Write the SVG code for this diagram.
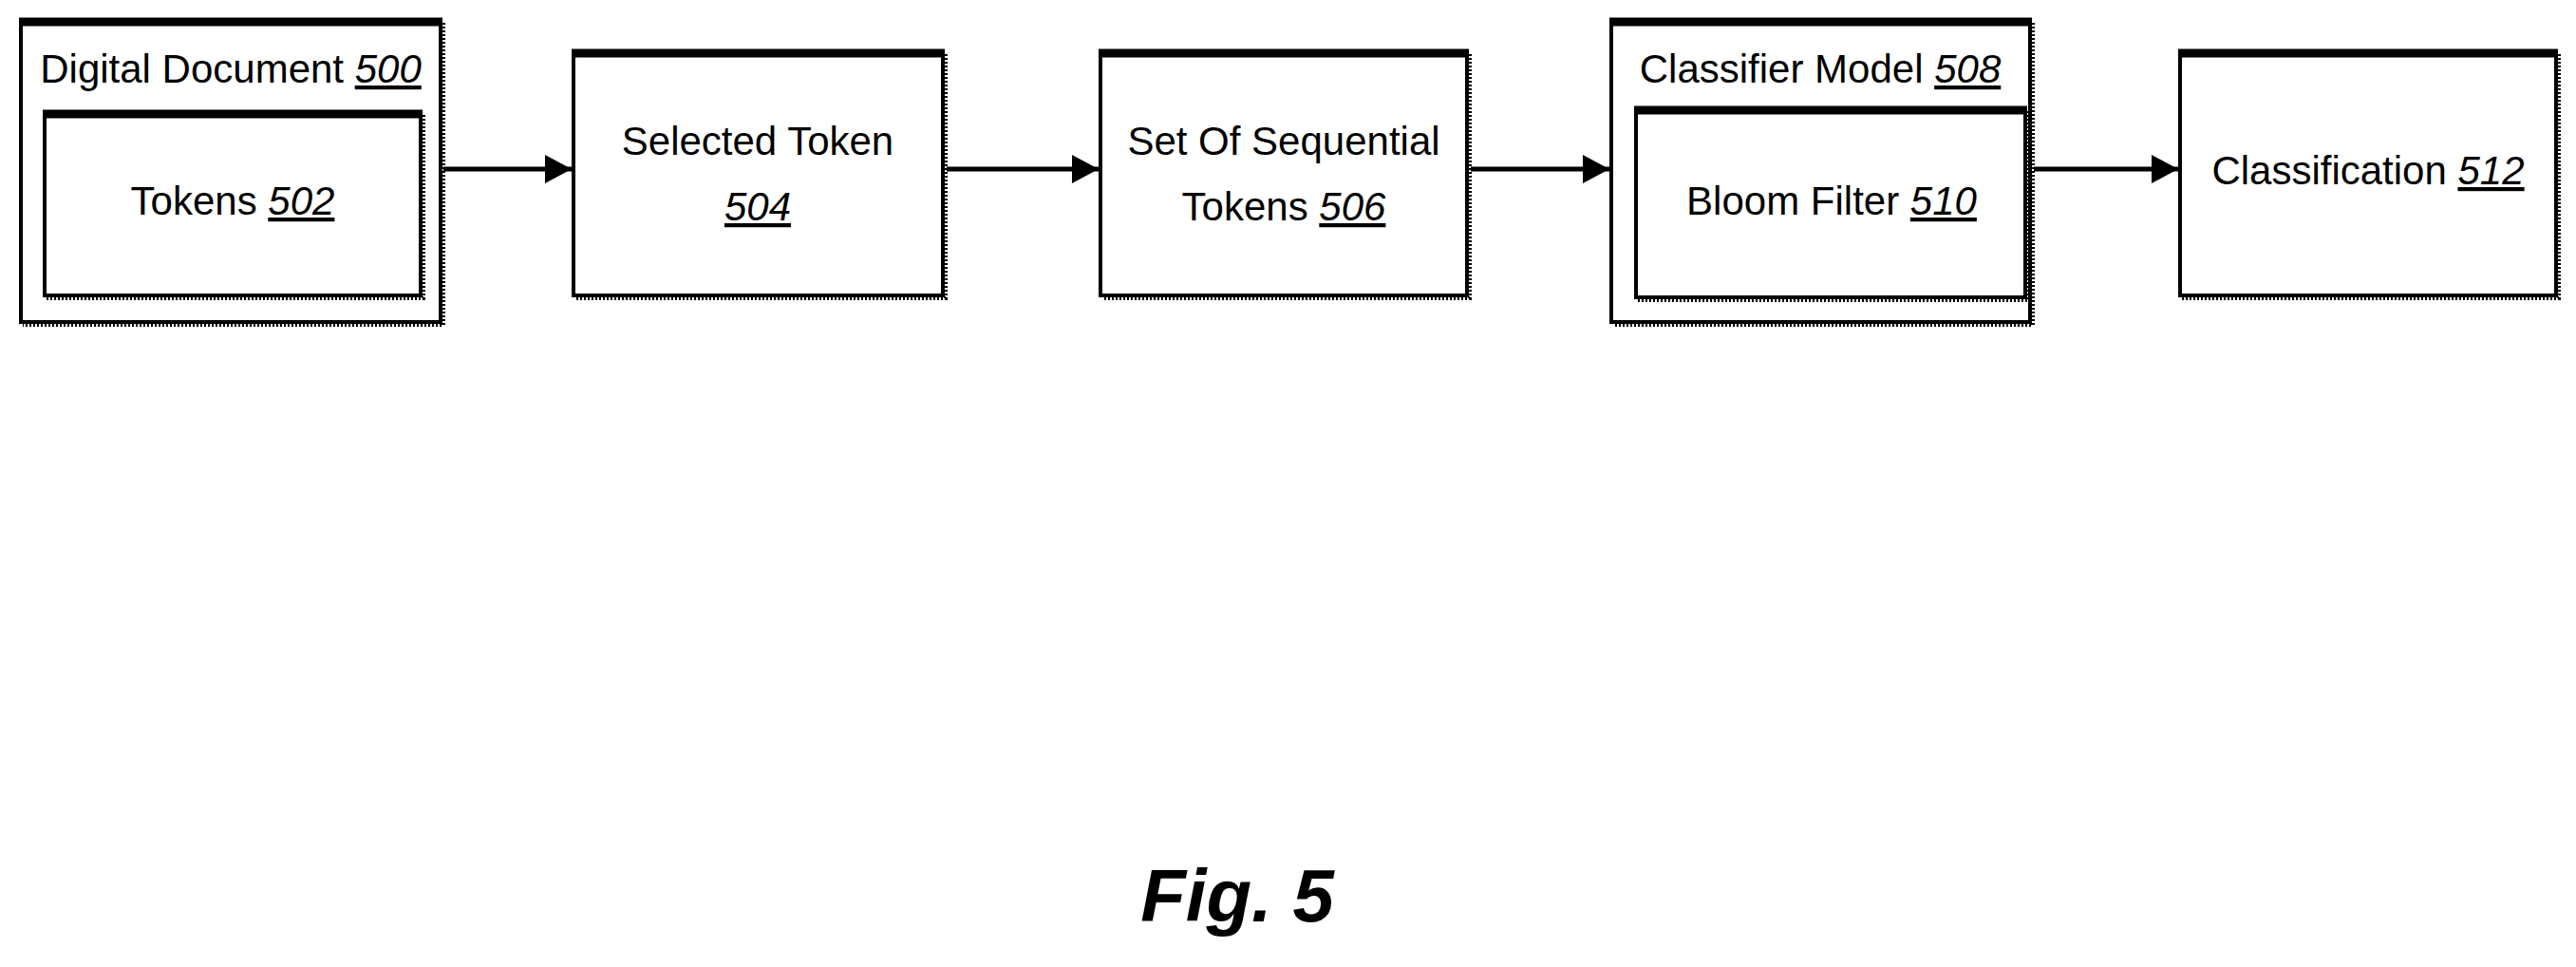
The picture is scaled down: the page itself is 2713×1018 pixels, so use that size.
<svg xmlns="http://www.w3.org/2000/svg" width="2713" height="1018" viewBox="0 0 2713 1018">
<defs>
<style>
.box{fill:#fff;stroke:#000;stroke-width:4}
.top{stroke:#000;stroke-width:9}
.sh{stroke:#000;stroke-width:4;stroke-dasharray:2 2;fill:none}
.t{font-family:"Liberation Sans Narrow","Liberation Sans",sans-serif;font-stretch:condensed;font-size:42px;text-anchor:middle;fill:#000}
.c{stroke:#000;stroke-width:5;fill:none}
</style>
<marker id="ah" markerWidth="28" markerHeight="30" refX="28" refY="15" orient="auto" markerUnits="userSpaceOnUse" viewBox="0 0 28 30"><path d="M0,0L28,15L0,30z"/></marker>
</defs>
<rect width="2713" height="1018" fill="#fff"/>
<g id="n500"><rect class="box" x="22" y="21" width="442" height="318"/><line class="top" x1="20" y1="23" x2="466" y2="23"/><polyline class="sh" points="467,24 467,342 24,342"/><text class="t" x="243" y="87">Digital Document <tspan text-decoration="underline" font-style="italic">500</tspan></text></g>
<g id="n502"><rect class="box" x="47" y="118" width="396" height="193"/><line class="top" x1="45" y1="120" x2="445" y2="120"/><polyline class="sh" points="446,121 446,314 49,314"/><text class="t" x="245" y="226">Tokens <tspan text-decoration="underline" font-style="italic">502</tspan></text></g>
<g id="n504"><rect class="box" x="604" y="54" width="389" height="257"/><line class="top" x1="602" y1="56" x2="995" y2="56"/><polyline class="sh" points="996,57 996,314 606,314"/><text class="t" x="798" y="163">Selected Token</text><text class="t" x="798" y="232"><tspan text-decoration="underline" font-style="italic">504</tspan></text></g>
<g id="n506"><rect class="box" x="1159" y="54" width="386" height="257"/><line class="top" x1="1157" y1="56" x2="1547" y2="56"/><polyline class="sh" points="1548,57 1548,314 1161,314"/><text class="t" x="1352" y="163">Set Of Sequential</text><text class="t" x="1352" y="232">Tokens <tspan text-decoration="underline" font-style="italic">506</tspan></text></g>
<g id="n508"><rect class="box" x="1697" y="21" width="441" height="318"/><line class="top" x1="1695" y1="23" x2="2140" y2="23"/><polyline class="sh" points="2141,24 2141,342 1699,342"/><text class="t" x="1917" y="87">Classifier Model <tspan text-decoration="underline" font-style="italic">508</tspan></text></g>
<g id="n510"><rect class="box" x="1723" y="114" width="410" height="199"/><line class="top" x1="1721" y1="116" x2="2135" y2="116"/><polyline class="sh" points="2136,117 2136,316 1725,316"/><text class="t" x="1929" y="226">Bloom Filter <tspan text-decoration="underline" font-style="italic">510</tspan></text></g>
<g id="n512"><rect class="box" x="2296" y="54" width="396" height="257"/><line class="top" x1="2294" y1="56" x2="2694" y2="56"/><polyline class="sh" points="2695,57 2695,314 2298,314"/><text class="t" x="2494" y="194">Classification <tspan text-decoration="underline" font-style="italic">512</tspan></text></g>
<g id="connectors">
<line class="c" x1="467" y1="178" x2="602" y2="178" marker-end="url(#ah)"/>
<line class="c" x1="997" y1="178" x2="1157" y2="178" marker-end="url(#ah)"/>
<line class="c" x1="1549" y1="178" x2="1695" y2="178" marker-end="url(#ah)"/>
<line class="c" x1="2142" y1="178" x2="2294" y2="178" marker-end="url(#ah)"/>
</g>
<text x="1303" y="970" font-family="Liberation Sans Narrow,Liberation Sans,sans-serif" font-stretch="condensed" font-size="78" font-weight="bold" font-style="italic" text-anchor="middle">Fig. 5</text>
</svg>
